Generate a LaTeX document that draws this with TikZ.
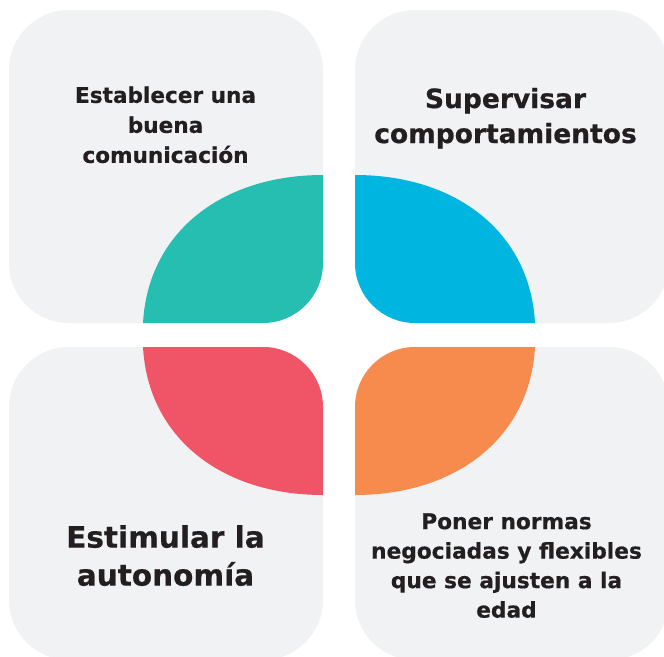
\documentclass[tikz,border=0pt]{standalone}
\usepackage{fontspec}
\setmainfont{DejaVu Sans}[BoldFeatures={FakeBold=0.6}]
\definecolor{boxgray}{HTML}{F1F2F4}
\definecolor{leafteal}{HTML}{26BEB1}
\definecolor{leafblue}{HTML}{00B5E0}
\definecolor{leafred}{HTML}{F05467}
\definecolor{leaforange}{HTML}{F68B4D}
\definecolor{txt}{HTML}{231F20}
\tikzset{
  panel/.style={fill=boxgray, rounded corners=60pt},
  label/.style={text=txt, align=center, inner sep=0pt, font=\bfseries},
}
\begin{document}
\begin{tikzpicture}[x=1pt,y=-1pt]
\useasboundingbox (0,0) rectangle (664,656);
\clip (0,0) rectangle (664,656);
% panels
\fill[panel] (9,10) rectangle (323,323);
\fill[panel] (355,10) rectangle (669,323);
\fill[panel] (9,347) rectangle (323,660);
\fill[panel] (355,347) rectangle (669,660);
% leaves
\fill[leafteal] (143,323) -- (263,323) .. controls (296.1,323) and (323,296.1) .. (323,263) -- (323,175) .. controls (222,175) and (148,232) .. (143,323) -- cycle;
\fill[leafblue] (535,323) -- (415,323) .. controls (381.9,323) and (355,296.1) .. (355,263) -- (355,175) .. controls (456,175) and (530,232) .. (535,323) -- cycle;
\fill[leafred] (143,347) -- (263,347) .. controls (296.1,347) and (323,373.9) .. (323,407) -- (323,495) .. controls (222,495) and (148,438) .. (143,347) -- cycle;
\fill[leaforange] (535,347) -- (415,347) .. controls (381.9,347) and (355,373.9) .. (355,407) -- (355,495) .. controls (456,495) and (530,438) .. (535,347) -- cycle;
% labels
\node[label, font=\bfseries\fontsize{21.6}{30}\selectfont] (tl) at (165.5,124.8) {Establecer una\\buena\\comunicación};
\node[label, font=\bfseries\fontsize{26.5}{35}\selectfont] (tr) at (505.5,118.2) {Supervisar\\comportamientos};
\node[label, font=\bfseries\fontsize{29.5}{38}\selectfont] (bl) at (165.5,555.6) {Estimular la\\autonomía};
\node[label, font=\bfseries\fontsize{21.7}{29.5}\selectfont] (br) at (506.5,565.6) {Poner normas\\negociadas y flexibles\\que se ajusten a la\\edad};
\end{tikzpicture}
\end{document}
